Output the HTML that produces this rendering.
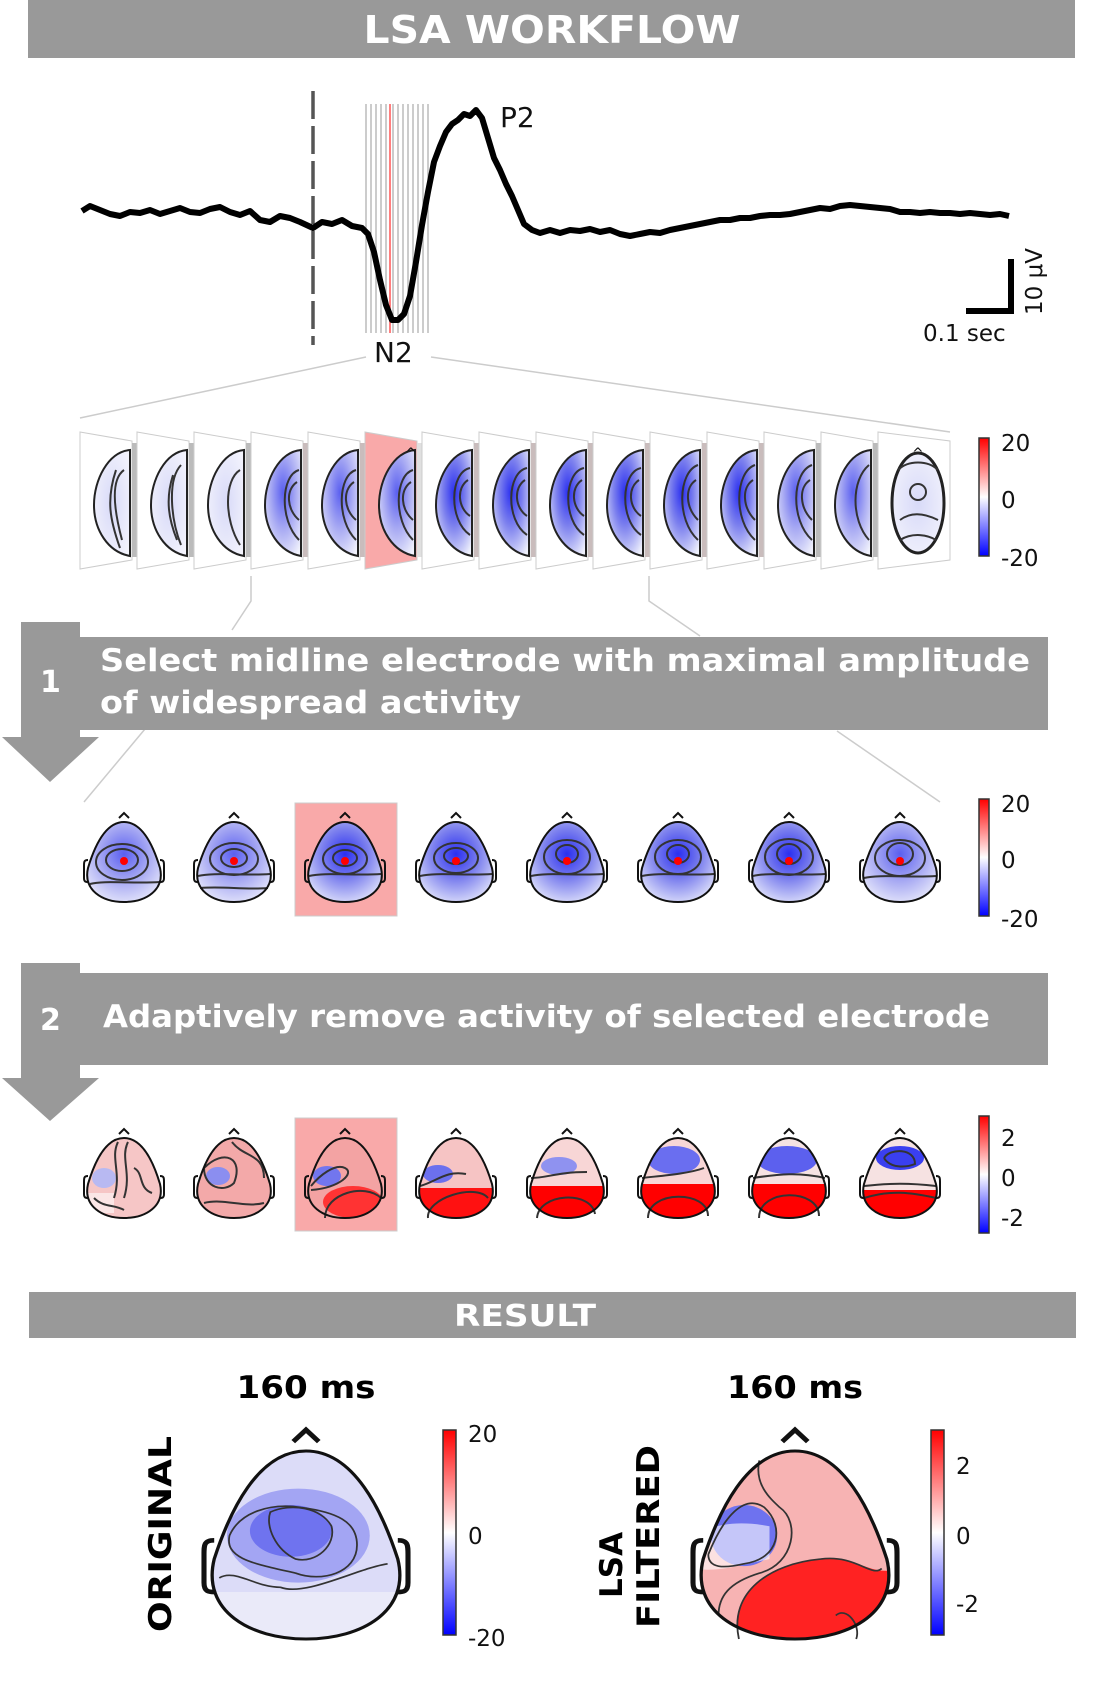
<!DOCTYPE html>
<html><head><meta charset="utf-8"><style>
html,body{margin:0;padding:0;background:#fff}
svg{display:block}
.b{font-family:"DejaVu Sans","Liberation Sans",sans-serif;font-weight:bold;fill:#fff}
.n{font-family:"DejaVu Sans","Liberation Sans",sans-serif;fill:#111}
</style></head><body>
<svg width="1093" height="1698" viewBox="0 0 1093 1698" xmlns="http://www.w3.org/2000/svg">
<defs>
<clipPath id="hc" clipPathUnits="userSpaceOnUse"><path d="M0,-40 C19,-40 30,-14 36,6 C41,28 22,40 0,40 C-22,40 -41,28 -36,6 C-30,-14 -19,-40 0,-40Z"/></clipPath>
<path id="head" d="M0,-40 C19,-40 30,-14 36,6 C41,28 22,40 0,40 C-22,40 -41,28 -36,6 C-30,-14 -19,-40 0,-40Z"/>
<radialGradient id="bl" cx="0.5" cy="0.4" r="0.7"><stop offset="0" stop-color="#2a2ff0"/><stop offset="0.45" stop-color="#7c80ee"/><stop offset="1" stop-color="#eef0fc"/></radialGradient>
<radialGradient id="bl2" cx="0.5" cy="0.4" r="0.7"><stop offset="0" stop-color="#5a5ff0"/><stop offset="0.5" stop-color="#a9abf3"/><stop offset="1" stop-color="#f0f1fc"/></radialGradient>
<radialGradient id="pale" cx="0.5" cy="0.5" r="0.7"><stop offset="0" stop-color="#d8daf8"/><stop offset="1" stop-color="#f6f6fd"/></radialGradient>
<linearGradient id="cb" x1="0" y1="0" x2="0" y2="1"><stop offset="0" stop-color="#f00"/><stop offset="0.5" stop-color="#fff"/><stop offset="1" stop-color="#00f"/></linearGradient>
<g id="ears" fill="none" stroke="#111" stroke-width="2"><path d="M-5,-44 L0,-49 L5,-44"/><path d="M-36,-2 C-40,-2 -40,0 -40,4 L-40,16 C-40,20 -38,20 -36,20"/><path d="M36,-2 C40,-2 40,0 40,4 L40,16 C40,20 38,20 36,20"/></g>
</defs>

<rect x="28" y="0" width="1047" height="58" fill="#999"/>
<text class="b" x="552" y="43" font-size="38" text-anchor="middle" textLength="377" lengthAdjust="spacingAndGlyphs">LSA WORKFLOW</text>

<g stroke="#aaa" stroke-width="1.2">
<line x1="366" y1="104" x2="366" y2="333"/><line x1="371" y1="104" x2="371" y2="333"/><line x1="376" y1="104" x2="376" y2="333"/><line x1="381" y1="104" x2="381" y2="333"/><line x1="393" y1="104" x2="393" y2="333"/><line x1="398" y1="104" x2="398" y2="333"/><line x1="403" y1="104" x2="403" y2="333"/><line x1="408" y1="104" x2="408" y2="333"/><line x1="413" y1="104" x2="413" y2="333"/><line x1="418" y1="104" x2="418" y2="333"/><line x1="423" y1="104" x2="423" y2="333"/><line x1="428" y1="104" x2="428" y2="333"/><line x1="386" y1="104" x2="386" y2="333"/>
</g>
<line x1="390" y1="104" x2="390" y2="333" stroke="#f55" stroke-width="1.5"/>
<line x1="313" y1="91" x2="313" y2="345" stroke="#555" stroke-width="3.5" stroke-dasharray="28,7"/>
<polyline fill="none" stroke="#000" stroke-width="6" stroke-linejoin="round" points="82,211 90,206 100,210 110,214 120,216 130,212 140,213 150,210 160,214 170,211 180,208 190,212 200,213 210,209 220,207 230,212 240,215 250,211 260,220 270,222 280,216 290,218 300,222 313,228 322,222 332,224 342,220 352,226 362,228 368,234 374,252 380,280 386,305 392,320 398,320 404,314 410,296 416,262 422,225 428,192 434,162 440,146 446,132 452,124 458,120 464,114 470,116 476,110 482,118 488,138 494,158 500,170 506,184 512,196 518,210 524,224 532,230 540,233 550,230 560,233 570,230 580,231 590,229 600,232 610,230 620,234 630,236 640,234 650,232 660,233 670,230 680,228 690,226 700,224 710,222 720,220 730,220 740,218 750,218 760,216 770,215 780,215 790,214 800,212 810,210 820,208 830,209 840,206 850,205 860,206 870,207 880,208 890,209 900,212 910,212 920,213 930,212 940,213 950,213 960,214 970,213 980,214 990,215 1000,214 1009,216"/>
<text class="n" x="500" y="127" font-size="28">P2</text>
<text class="n" x="374" y="362" font-size="28">N2</text>
<path d="M1011,259 L1011,311 L966,311" fill="none" stroke="#000" stroke-width="6"/>
<text class="n" x="923" y="341" font-size="23">0.1 sec</text>
<text class="n" font-size="23" transform="translate(1042,315) rotate(-90)">10 μV</text>

<g stroke="#ccc" stroke-width="1.5" fill="none">
<path d="M366,357 L80,418"/><path d="M431,357 L950,432"/>
<path d="M251,576 L251,601 L232,630"/><path d="M649,576 L649,601 L700,636"/>
<path d="M145,729 L84,802"/><path d="M837,731 L940,802"/>
</g>

<g id="strip">
<g transform="translate(80,0)"><polygon points="0,432 52,441 52,560 0,569" fill="#fff" stroke="#ccc"/><rect x="52" y="443" width="7" height="114" fill="#bbb"/><path d="M50,450 C28,452 14,480 14,505 C14,530 28,552 50,556 Z" fill="url(#pale)" stroke="#222" stroke-width="2"/><path d="M44,470 C30,480 34,510 42,540 M36,470 C26,500 30,520 40,548" fill="none" stroke="#333" stroke-width="2"/></g>
<g transform="translate(137,0)"><polygon points="0,432 52,441 52,560 0,569" fill="#fff" stroke="#ccc"/><rect x="52" y="443" width="7" height="114" fill="#bbb"/><path d="M50,450 C28,452 14,480 14,505 C14,530 28,552 50,556 Z" fill="url(#pale)" stroke="#222" stroke-width="2"/><path d="M44,465 C30,480 34,520 44,545 M36,475 C28,500 32,520 40,540" fill="none" stroke="#333" stroke-width="2"/></g>
<g transform="translate(194,0)"><polygon points="0,432 52,441 52,560 0,569" fill="#fff" stroke="#ccc"/><rect x="52" y="443" width="7" height="114" fill="#bbb"/><path d="M50,450 C28,452 14,480 14,505 C14,530 28,552 50,556 Z" fill="url(#pale)" stroke="#222" stroke-width="2"/><path d="M46,470 C30,480 30,520 46,545" fill="none" stroke="#333" stroke-width="2"/></g>
<g transform="translate(251,0)"><polygon points="0,432 52,441 52,560 0,569" fill="#fff" stroke="#ccc"/><rect x="52" y="443" width="7" height="114" fill="#c9bcbc"/><path d="M50,450 C28,452 14,480 14,505 C14,530 28,552 50,556 Z" fill="url(#bl2)" stroke="#222" stroke-width="2"/><path d="M48,470 C30,475 28,520 48,540 M46,482 C34,490 36,510 48,520" fill="none" stroke="#333" stroke-width="2"/></g>
<g transform="translate(308,0)"><polygon points="0,432 52,441 52,560 0,569" fill="#fff" stroke="#ccc"/><rect x="52" y="443" width="7" height="114" fill="#c9bcbc"/><path d="M50,450 C28,452 14,480 14,505 C14,530 28,552 50,556 Z" fill="url(#bl2)" stroke="#222" stroke-width="2"/><path d="M48,470 C30,475 28,520 48,540 M46,482 C34,490 36,510 48,520" fill="none" stroke="#333" stroke-width="2"/></g>
<g transform="translate(365,0)"><polygon points="0,432 52,441 52,560 0,569" fill="#f9a9a9" stroke="#ccc"/><rect x="52" y="443" width="7" height="114" fill="#e0e0e0"/><path d="M50,450 C28,452 14,480 14,505 C14,530 28,552 50,556 Z" fill="url(#bl2)" stroke="#222" stroke-width="2"/><path d="M48,470 C30,475 28,520 48,540 M46,482 C34,490 36,510 48,520" fill="none" stroke="#333" stroke-width="2"/><text class="n" x="40" y="458" font-size="14">^</text></g>
<g transform="translate(422,0)"><polygon points="0,432 52,441 52,560 0,569" fill="#fff" stroke="#ccc"/><rect x="52" y="443" width="7" height="114" fill="#c9bcbc"/><path d="M50,450 C28,452 14,480 14,505 C14,530 28,552 50,556 Z" fill="url(#bl)" stroke="#222" stroke-width="2"/><path d="M48,468 C28,472 26,520 48,535 M46,480 C34,488 36,508 48,516" fill="none" stroke="#333" stroke-width="2"/></g>
<g transform="translate(479,0)"><polygon points="0,432 52,441 52,560 0,569" fill="#fff" stroke="#ccc"/><rect x="52" y="443" width="7" height="114" fill="#c9bcbc"/><path d="M50,450 C28,452 14,480 14,505 C14,530 28,552 50,556 Z" fill="url(#bl)" stroke="#222" stroke-width="2"/><path d="M48,468 C28,472 26,520 48,535 M46,480 C34,488 36,508 48,516" fill="none" stroke="#333" stroke-width="2"/></g>
<g transform="translate(536,0)"><polygon points="0,432 52,441 52,560 0,569" fill="#fff" stroke="#ccc"/><rect x="52" y="443" width="7" height="114" fill="#c9bcbc"/><path d="M50,450 C28,452 14,480 14,505 C14,530 28,552 50,556 Z" fill="url(#bl)" stroke="#222" stroke-width="2"/><path d="M48,468 C28,472 26,520 48,535 M46,480 C34,488 36,508 48,516" fill="none" stroke="#333" stroke-width="2"/></g>
<g transform="translate(593,0)"><polygon points="0,432 52,441 52,560 0,569" fill="#fff" stroke="#ccc"/><rect x="52" y="443" width="7" height="114" fill="#c9bcbc"/><path d="M50,450 C28,452 14,480 14,505 C14,530 28,552 50,556 Z" fill="url(#bl)" stroke="#222" stroke-width="2"/><path d="M48,468 C28,472 26,520 48,535 M46,480 C34,488 36,508 48,516" fill="none" stroke="#333" stroke-width="2"/></g>
<g transform="translate(650,0)"><polygon points="0,432 52,441 52,560 0,569" fill="#fff" stroke="#ccc"/><rect x="52" y="443" width="7" height="114" fill="#c9bcbc"/><path d="M50,450 C28,452 14,480 14,505 C14,530 28,552 50,556 Z" fill="url(#bl)" stroke="#222" stroke-width="2"/><path d="M48,465 C28,472 26,520 48,540 M46,480 C34,488 36,508 48,520" fill="none" stroke="#333" stroke-width="2"/></g>
<g transform="translate(707,0)"><polygon points="0,432 52,441 52,560 0,569" fill="#fff" stroke="#ccc"/><rect x="52" y="443" width="7" height="114" fill="#c9bcbc"/><path d="M50,450 C28,452 14,480 14,505 C14,530 28,552 50,556 Z" fill="url(#bl)" stroke="#222" stroke-width="2"/><path d="M48,465 C28,472 26,520 48,540 M46,480 C34,488 36,508 48,520" fill="none" stroke="#333" stroke-width="2"/></g>
<g transform="translate(764,0)"><polygon points="0,432 52,441 52,560 0,569" fill="#fff" stroke="#ccc"/><rect x="52" y="443" width="7" height="114" fill="#bbb"/><path d="M50,450 C28,452 14,480 14,505 C14,530 28,552 50,556 Z" fill="url(#bl2)" stroke="#222" stroke-width="2"/><path d="M48,465 C28,472 26,520 48,540 M46,480 C34,488 36,508 48,520" fill="none" stroke="#333" stroke-width="2"/></g>
<g transform="translate(821,0)"><polygon points="0,432 52,441 52,560 0,569" fill="#fff" stroke="#ccc"/><rect x="52" y="443" width="7" height="114" fill="#bbb"/><path d="M50,450 C28,452 14,480 14,505 C14,530 28,552 50,556 Z" fill="url(#bl2)" stroke="#222" stroke-width="2"/><path d="M48,465 C30,480 30,520 48,540" fill="none" stroke="#333" stroke-width="2"/></g>
<g transform="translate(878,0)"><polygon points="0,432 72,441 72,560 0,569" fill="#fff" stroke="#ccc"/><ellipse cx="40" cy="503" rx="26" ry="50" fill="url(#pale)" stroke="#222" stroke-width="3"/><path d="M20,470 C30,460 50,460 60,470 M22,520 C35,510 50,515 60,520 M22,540 C35,532 50,535 58,540" fill="none" stroke="#333" stroke-width="2"/><circle cx="40" cy="492" r="8" fill="none" stroke="#333" stroke-width="2"/><text class="n" x="34" y="458" font-size="14">^</text></g>
</g>

<rect x="979" y="438" width="10" height="118" fill="url(#cb)" stroke="#333" stroke-width="1.5"/>
<text class="n" x="1001" y="451" font-size="23">20</text>
<text class="n" x="1001" y="508" font-size="23">0</text>
<text class="n" x="1001" y="566" font-size="23">-20</text>

<polygon points="21,622 80,622 80,737 99,737 50,782 2,737 21,737" fill="#999"/>
<rect x="80" y="637" width="968" height="93" fill="#999"/>
<text class="b" x="40" y="692" font-size="30">1</text>
<text class="b" x="100" y="671" font-size="31" textLength="930" lengthAdjust="spacingAndGlyphs">Select midline electrode with maximal amplitude</text>
<text class="b" x="100" y="713" font-size="31" textLength="421" lengthAdjust="spacingAndGlyphs">of widespread activity</text>

<rect x="295" y="803" width="102" height="113" fill="#f9a9a9" stroke="#ccc"/>
<g id="r2">
<g transform="translate(124,862)"><use href="#ears"/><use href="#head" fill="url(#bl2)"/><g fill="none" stroke="#333" stroke-width="2"><ellipse cx="-2" cy="-2" rx="16" ry="11"/><ellipse cx="-2" cy="0" rx="26" ry="18"/><path d="M-34,22 C-20,18 10,22 36,20"/></g><use href="#head" fill="none" stroke="#111" stroke-width="2"/><circle cx="0" cy="-1" r="4" fill="#f00"/></g>
<g transform="translate(234,862)"><use href="#ears"/><use href="#head" fill="url(#bl2)"/><g fill="none" stroke="#333" stroke-width="2"><ellipse cx="0" cy="-4" rx="13" ry="9"/><ellipse cx="0" cy="-3" rx="24" ry="16"/><path d="M-36,14 C-20,10 10,14 36,12 M-34,26 C-10,24 10,28 34,26"/></g><use href="#head" fill="none" stroke="#111" stroke-width="2"/><circle cx="0" cy="-1" r="4" fill="#f00"/></g>
<g transform="translate(345,862)"><use href="#ears"/><use href="#head" fill="url(#bl)"/><g fill="none" stroke="#333" stroke-width="2"><ellipse cx="0" cy="-4" rx="12" ry="8"/><ellipse cx="0" cy="-3" rx="22" ry="15"/><path d="M-36,14 C-20,10 10,14 36,12"/></g><use href="#head" fill="none" stroke="#111" stroke-width="2"/><circle cx="0" cy="-1" r="4" fill="#f00"/></g>
<g transform="translate(456,862)"><use href="#ears"/><use href="#head" fill="url(#bl)"/><g fill="none" stroke="#333" stroke-width="2"><ellipse cx="0" cy="-6" rx="12" ry="8"/><ellipse cx="0" cy="-4" rx="22" ry="15"/><path d="M-36,14 C-20,10 10,14 36,12"/></g><use href="#head" fill="none" stroke="#111" stroke-width="2"/><circle cx="0" cy="-1" r="4" fill="#f00"/></g>
<g transform="translate(567,862)"><use href="#ears"/><use href="#head" fill="url(#bl)"/><g fill="none" stroke="#333" stroke-width="2"><ellipse cx="0" cy="-8" rx="11" ry="9"/><ellipse cx="0" cy="-5" rx="23" ry="17"/><path d="M-36,14 C-20,10 10,14 36,12"/></g><use href="#head" fill="none" stroke="#111" stroke-width="2"/><circle cx="0" cy="-1" r="4" fill="#f00"/></g>
<g transform="translate(678,862)"><use href="#ears"/><use href="#head" fill="url(#bl)"/><g fill="none" stroke="#333" stroke-width="2"><ellipse cx="0" cy="-8" rx="11" ry="9"/><ellipse cx="0" cy="-5" rx="23" ry="17"/><path d="M-36,14 C-20,10 10,14 36,12"/></g><use href="#head" fill="none" stroke="#111" stroke-width="2"/><circle cx="0" cy="-1" r="4" fill="#f00"/></g>
<g transform="translate(789,862)"><use href="#ears"/><use href="#head" fill="url(#bl)"/><g fill="none" stroke="#333" stroke-width="2"><ellipse cx="0" cy="-8" rx="12" ry="10"/><ellipse cx="0" cy="-5" rx="24" ry="18"/><path d="M-36,14 C-20,10 10,14 36,12"/></g><use href="#head" fill="none" stroke="#111" stroke-width="2"/><circle cx="0" cy="-1" r="4" fill="#f00"/></g>
<g transform="translate(900,862)"><use href="#ears"/><use href="#head" fill="url(#bl2)"/><g fill="none" stroke="#333" stroke-width="2"><ellipse cx="0" cy="-8" rx="13" ry="11"/><ellipse cx="0" cy="-4" rx="25" ry="18"/><path d="M-36,16 C-20,12 10,16 36,14"/></g><use href="#head" fill="none" stroke="#111" stroke-width="2"/><circle cx="0" cy="-1" r="4" fill="#f00"/></g>
</g>
<rect x="979" y="799" width="10" height="117" fill="url(#cb)" stroke="#333" stroke-width="1.5"/>
<text class="n" x="1001" y="812" font-size="23">20</text>
<text class="n" x="1001" y="868" font-size="23">0</text>
<text class="n" x="1001" y="927" font-size="23">-20</text>

<polygon points="21,963 80,963 80,1078 99,1078 50,1121 2,1078 21,1078" fill="#999"/>
<rect x="80" y="973" width="968" height="92" fill="#999"/>
<text class="b" x="40" y="1030" font-size="30">2</text>
<text class="b" x="103" y="1027" font-size="31" textLength="887" lengthAdjust="spacingAndGlyphs">Adaptively remove activity of selected electrode</text>

<rect x="295" y="1118" width="102" height="113" fill="#f9a9a9" stroke="#ccc"/>
<g transform="translate(124,1178)"><use href="#ears"/><g clip-path="url(#hc)"><rect x="-40" y="-40" width="80" height="82" fill="#f6c6c6"/><ellipse cx="-20" cy="0" rx="12" ry="10" fill="#b8b9f2"/><rect x="-40" y="15" width="30" height="20" fill="#fbe6e6"/></g><g fill="none" stroke="#333" stroke-width="2"><path d="M-6,-36 C-14,-20 -2,-5 -10,20 M4,-36 C-4,-20 8,-5 0,20 M-30,20 C-20,30 -10,26 0,32 M10,-10 C20,-5 14,10 28,15"/></g><use href="#head" fill="none" stroke="#111" stroke-width="2"/></g>
<g transform="translate(234,1178)"><use href="#ears"/><g clip-path="url(#hc)"><rect x="-40" y="-40" width="80" height="82" fill="#f3a9a9"/><ellipse cx="-16" cy="-2" rx="12" ry="9" fill="#8b8ef0"/></g><g fill="none" stroke="#333" stroke-width="2"><path d="M-30,-10 C-10,-30 10,-20 0,5 C-10,15 -30,10 -30,-10 M-2,-36 C10,-20 30,-25 30,0 M-30,25 C-10,20 10,30 30,25"/></g><use href="#head" fill="none" stroke="#111" stroke-width="2"/></g>
<g transform="translate(345,1178)"><use href="#ears"/><g clip-path="url(#hc)"><rect x="-40" y="-40" width="80" height="82" fill="#f3a3a3"/><ellipse cx="-18" cy="-2" rx="14" ry="10" fill="#7276ee"/><ellipse cx="8" cy="24" rx="30" ry="16" fill="#f33"/></g><g fill="none" stroke="#333" stroke-width="2"><path d="M-34,8 C-26,-2 -10,-15 0,-10 C10,-5 -5,10 -34,12 M-20,40 C-20,15 20,5 36,20"/></g><use href="#head" fill="none" stroke="#111" stroke-width="2"/></g>
<g transform="translate(456,1178)"><use href="#ears"/><g clip-path="url(#hc)"><rect x="-40" y="-40" width="80" height="82" fill="#f6c4c4"/><ellipse cx="-18" cy="-4" rx="15" ry="9" fill="#6c70ee"/><rect x="-40" y="10" width="80" height="32" fill="#f11"/></g><g fill="none" stroke="#333" stroke-width="2"><path d="M-36,8 C-20,4 -10,-8 10,-4 M-28,40 C-30,20 20,5 32,20"/></g><use href="#head" fill="none" stroke="#111" stroke-width="2"/></g>
<g transform="translate(567,1178)"><use href="#ears"/><g clip-path="url(#hc)"><rect x="-40" y="-40" width="80" height="82" fill="#f8d6d6"/><ellipse cx="-8" cy="-12" rx="18" ry="9" fill="#8f92f0"/><rect x="-40" y="8" width="80" height="34" fill="#f00"/></g><g fill="none" stroke="#333" stroke-width="2"><path d="M-36,0 C-20,0 -10,-6 20,-6 M-30,40 C-28,15 24,12 28,36"/></g><use href="#head" fill="none" stroke="#111" stroke-width="2"/></g>
<g transform="translate(678,1178)"><use href="#ears"/><g clip-path="url(#hc)"><rect x="-40" y="-40" width="80" height="82" fill="#f8d6d6"/><ellipse cx="-4" cy="-18" rx="26" ry="14" fill="#6a6ef0"/><rect x="-40" y="6" width="80" height="36" fill="#f00"/></g><g fill="none" stroke="#333" stroke-width="2"><path d="M-36,0 C-20,-2 10,-4 26,-10 M-30,40 C-30,12 30,12 30,38"/></g><use href="#head" fill="none" stroke="#111" stroke-width="2"/></g>
<g transform="translate(789,1178)"><use href="#ears"/><g clip-path="url(#hc)"><rect x="-40" y="-40" width="80" height="82" fill="#f6e2e2"/><ellipse cx="-2" cy="-18" rx="30" ry="14" fill="#5c60ee"/><rect x="-40" y="6" width="80" height="36" fill="#f00"/></g><g fill="none" stroke="#333" stroke-width="2"><path d="M-36,0 C-10,-4 10,-6 36,0 M-30,40 C-30,10 30,10 30,38"/></g><use href="#head" fill="none" stroke="#111" stroke-width="2"/></g>
<g transform="translate(900,1178)"><use href="#ears"/><g clip-path="url(#hc)"><rect x="-40" y="-40" width="80" height="82" fill="#f6e2e2"/><ellipse cx="0" cy="-20" rx="24" ry="12" fill="#3a3ff0"/><rect x="-40" y="12" width="80" height="30" fill="#f00"/></g><g fill="none" stroke="#333" stroke-width="2"><path d="M-16,-20 C-10,-30 15,-30 15,-14 C5,-10 -10,-10 -16,-20 M-36,8 C-10,5 10,5 36,8 M-36,20 C-10,12 10,14 36,20"/></g><use href="#head" fill="none" stroke="#111" stroke-width="2"/></g>
<rect x="979" y="1116" width="10" height="117" fill="url(#cb)" stroke="#333" stroke-width="1.5"/>
<text class="n" x="1001" y="1146" font-size="23">2</text>
<text class="n" x="1001" y="1186" font-size="23">0</text>
<text class="n" x="1001" y="1226" font-size="23">-2</text>

<rect x="29" y="1292" width="1047" height="46" fill="#999"/>
<text class="b" x="525" y="1326" font-size="30" text-anchor="middle" textLength="142" lengthAdjust="spacingAndGlyphs">RESULT</text>

<text class="b" x="306" y="1398" font-size="31" text-anchor="middle" style="fill:#000" textLength="139" lengthAdjust="spacingAndGlyphs">160 ms</text>
<text class="b" x="795" y="1398" font-size="31" text-anchor="middle" style="fill:#000" textLength="136" lengthAdjust="spacingAndGlyphs">160 ms</text>

<text class="b" style="fill:#000" font-size="31" transform="translate(171,1632) rotate(-90)" textLength="196" lengthAdjust="spacingAndGlyphs">ORIGINAL</text>
<text class="b" style="fill:#000" font-size="31" transform="translate(622,1598) rotate(-90)">LSA</text>
<text class="b" style="fill:#000" font-size="31" transform="translate(659,1628) rotate(-90)" textLength="183" lengthAdjust="spacingAndGlyphs">FILTERED</text>

<g transform="translate(306,1545) scale(2.55,2.35)">
<use href="#ears" stroke-width="1"/>
<g clip-path="url(#hc)"><rect x="-40" y="-40" width="80" height="82" fill="#dcdcf8"/><ellipse cx="-3" cy="-4" rx="28" ry="20" fill="#a3a5f3"/><ellipse cx="-6" cy="-6" rx="16" ry="11" fill="#6f73ef"/><rect x="-40" y="20" width="80" height="22" fill="#eaeaf9"/></g>
<g fill="none" stroke="#333" stroke-width="0.7"><path d="M-14,-14 C-6,-18 6,-16 10,-8 C12,0 4,8 -4,6 C-12,2 -16,-8 -14,-14Z"/><path d="M-30,-4 C-26,-14 -14,-18 -2,-16 C12,-14 20,-10 20,0 C20,12 6,16 -4,12 C-20,8 -32,6 -30,-4Z"/><path d="M-34,14 C-28,10 -20,18 -10,18 C0,22 20,10 32,8"/></g>
<use href="#head" fill="none" stroke="#111" stroke-width="1.3"/>
</g>
<rect x="443" y="1430" width="13" height="205" fill="url(#cb)" stroke="#333" stroke-width="1.5"/>
<text class="n" x="468" y="1442" font-size="23">20</text>
<text class="n" x="468" y="1544" font-size="23">0</text>
<text class="n" x="468" y="1646" font-size="23">-20</text>

<g transform="translate(795,1545) scale(2.55,2.35)">
<use href="#ears" stroke-width="1"/>
<g clip-path="url(#hc)"><rect x="-40" y="-40" width="80" height="82" fill="#f7b3b3"/><ellipse cx="-20" cy="-4" rx="13" ry="13" fill="#6e72ef"/><path d="M-40,10 C-30,12 -20,8 -10,6 L-10,-8 C-20,-10 -30,-10 -40,-4Z" fill="#fff" opacity="0.6"/><path d="M-22,42 C-26,20 -10,8 10,6 C24,4 30,14 40,10 L40,42Z" fill="#f22"/></g>
<g fill="none" stroke="#333" stroke-width="0.7"><path d="M-34,4 C-28,-12 -20,-22 -12,-16 C-4,-8 -6,6 -20,8 C-28,10 -34,10 -34,4"/><path d="M-14,-36 C-16,-26 -10,-20 -6,-16 C2,-10 0,8 -14,12 C-26,16 -30,22 -30,30"/><path d="M-22,40 C-26,20 -10,8 10,6 C24,4 30,14 34,10"/><path d="M16,30 C20,26 26,34 24,40"/></g>
<use href="#head" fill="none" stroke="#111" stroke-width="1.3"/>
</g>
<rect x="931" y="1430" width="13" height="205" fill="url(#cb)" stroke="#333" stroke-width="1.5"/>
<text class="n" x="956" y="1474" font-size="23">2</text>
<text class="n" x="956" y="1544" font-size="23">0</text>
<text class="n" x="956" y="1612" font-size="23">-2</text>
</svg>
</body></html>
